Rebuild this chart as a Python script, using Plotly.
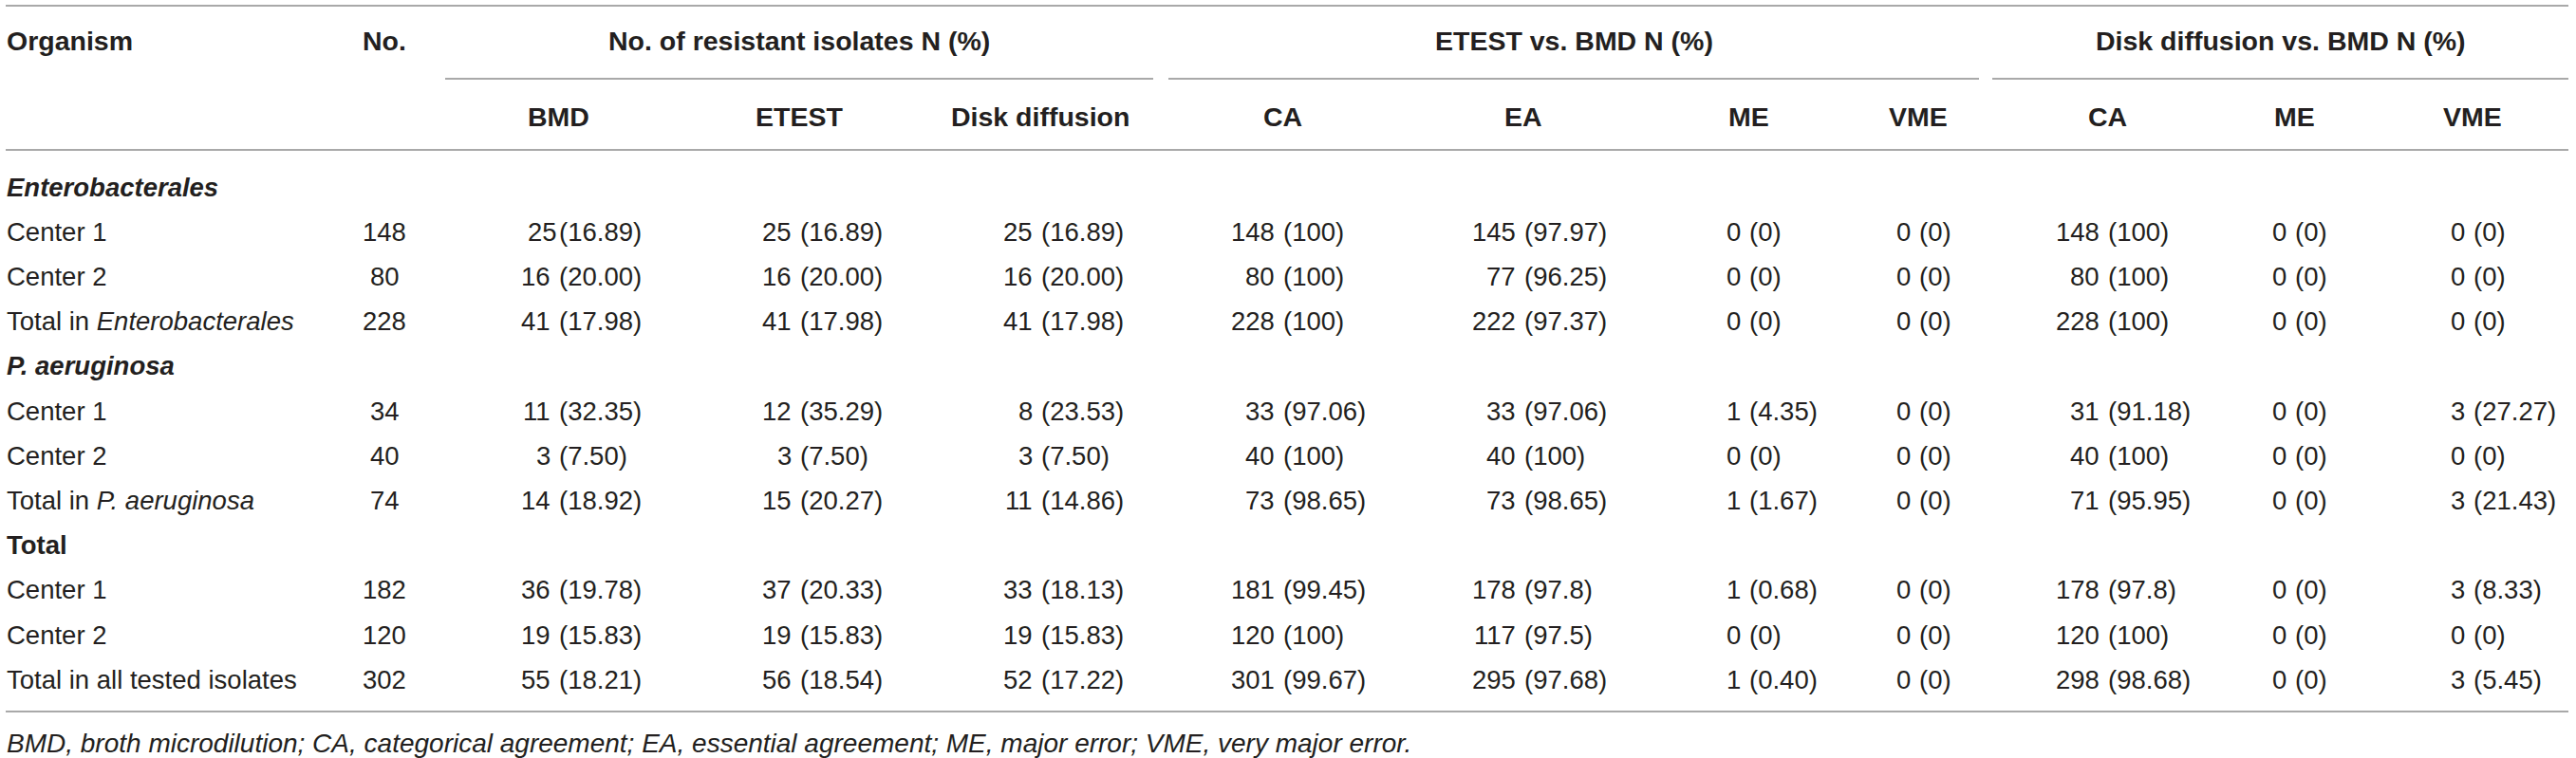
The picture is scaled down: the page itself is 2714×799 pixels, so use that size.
import plotly.graph_objects as go

# table content
row_labels = [
    "<b><i>Enterobacterales</i></b>", "Center 1", "Center 2", "Total in <i>Enterobacterales</i>",
    "<b><i>P. aeruginosa</i></b>", "Center 1", "Center 2", "Total in <i>P. aeruginosa</i>",
    "<b>Total</b>", "Center 1", "Center 2", "Total in all tested isolates",
]
n_isolates = ["", "148", "80", "228", "", "34", "40", "74", "", "182", "120", "302"]

bmd = ["", "25(16.89)", "16 (20.00)", "41 (17.98)", "", "11 (32.35)", "3 (7.50)", "14 (18.92)",
       "", "36 (19.78)", "19 (15.83)", "55 (18.21)"]
etest = ["", "25 (16.89)", "16 (20.00)", "41 (17.98)", "", "12 (35.29)", "3 (7.50)", "15 (20.27)",
         "", "37 (20.33)", "19 (15.83)", "56 (18.54)"]
disk = ["", "25 (16.89)", "16 (20.00)", "41 (17.98)", "", "8 (23.53)", "3 (7.50)", "11 (14.86)",
        "", "33 (18.13)", "19 (15.83)", "52 (17.22)"]
etest_ca = ["", "148 (100)", "80 (100)", "228 (100)", "", "33 (97.06)", "40 (100)", "73 (98.65)",
            "", "181 (99.45)", "120 (100)", "301 (99.67)"]
etest_ea = ["", "145 (97.97)", "77 (96.25)", "222 (97.37)", "", "33 (97.06)", "40 (100)", "73 (98.65)",
            "", "178 (97.8)", "117 (97.5)", "295 (97.68)"]
etest_me = ["", "0 (0)", "0 (0)", "0 (0)", "", "1 (4.35)", "0 (0)", "1 (1.67)",
            "", "1 (0.68)", "0 (0)", "1 (0.40)"]
etest_vme = ["", "0 (0)", "0 (0)", "0 (0)", "", "0 (0)", "0 (0)", "0 (0)",
             "", "0 (0)", "0 (0)", "0 (0)"]
disk_ca = ["", "148 (100)", "80 (100)", "228 (100)", "", "31 (91.18)", "40 (100)", "71 (95.95)",
           "", "178 (97.8)", "120 (100)", "298 (98.68)"]
disk_me = ["", "0 (0)", "0 (0)", "0 (0)", "", "0 (0)", "0 (0)", "0 (0)",
           "", "0 (0)", "0 (0)", "0 (0)"]
disk_vme = ["", "0 (0)", "0 (0)", "0 (0)", "", "3 (27.27)", "0 (0)", "3 (21.43)",
            "", "3 (8.33)", "0 (0)", "3 (5.45)"]

group_headers = ["No. of resistant isolates N (%)", "ETEST vs. BMD N (%)", "Disk diffusion vs. BMD N (%)"]
sub_headers = ["BMD", "ETEST", "Disk diffusion", "CA", "EA", "ME", "VME", "CA", "ME", "VME"]
footnote = ("BMD, broth microdilution; CA, categorical agreement; EA, essential agreement; "
            "ME, major error; VME, very major error.")

columns = [bmd, etest, disk, etest_ca, etest_ea, etest_me, etest_vme, disk_ca, disk_me, disk_vme]

# layout (pixels)
W, H = 2714, 799
col_x = [588, 842, 1096, 1351, 1605, 1842, 2021, 2220, 2417, 2605]
group_spans = [(469, 1215), (1231, 2085), (2099, 2706)]
row_y0, row_step = 197, 47.2
FONT = "Liberation Sans, Arial, sans-serif"
TXT = "#231f20"
LINE = "#8c8c8c"
fs_body, fs_head = 27.5, 28.5

fig = go.Figure()
ann = []


def add_text(x, y, text, anchor="center", size=fs_body, bold=False, italic=False):
    if bold:
        text = "<b>" + text + "</b>"
    if italic:
        text = "<i>" + text + "</i>"
    ann.append(dict(x=x, y=y, xref="x", yref="y", text=text, showarrow=False,
                    xanchor=anchor, yanchor="middle", borderpad=0,
                    font=dict(family=FONT, size=size, color=TXT)))


# headers
add_text(6, 43, "Organism", "left", fs_head, bold=True)
add_text(405, 43, "No.", "center", fs_head, bold=True)
for (a, b), g in zip(group_spans, group_headers):
    add_text((a + b) / 2, 43, g, "center", fs_head, bold=True)
for x, s in zip(col_x, sub_headers):
    add_text(x, 123, s, "center", fs_head, bold=True)

# body
for i, lab in enumerate(row_labels):
    y = row_y0 + row_step * i
    add_text(6, y, lab, "left")
    if n_isolates[i]:
        add_text(405, y, n_isolates[i], "center")
    for x, col in zip(col_x, columns):
        v = col[i]
        if not v:
            continue
        k = v.index("(")
        num, pct = v[:k], v[k:]
        gap = 7 if num.endswith(" ") else 0
        add_text(x - gap, y, num.strip(), "right")
        add_text(x, y, pct, "left")

add_text(6, 783, footnote, "left", size=28, italic=True)

# rules
shapes = []
for y in (6, 158, 750):
    shapes.append(dict(type="line", xref="x", yref="y", x0=6, x1=2706, y0=y, y1=y,
                       line=dict(color=LINE, width=1.6)))
for a, b in group_spans:
    shapes.append(dict(type="line", xref="x", yref="y", x0=a, x1=b, y0=83, y1=83,
                       line=dict(color=LINE, width=1.6)))

fig.update_layout(
    width=W, height=H,
    margin=dict(l=0, r=0, t=0, b=0),
    paper_bgcolor="white", plot_bgcolor="white",
    xaxis=dict(range=[0, W], visible=False, fixedrange=True),
    yaxis=dict(range=[H, 0], visible=False, fixedrange=True),
    annotations=ann, shapes=shapes,
    showlegend=False,
)

# drop the default page margin so the table sits at the window's corner
fig.write_html("out.html", config={"displayModeBar": False},
               post_script="document.body.style.margin='0';")
